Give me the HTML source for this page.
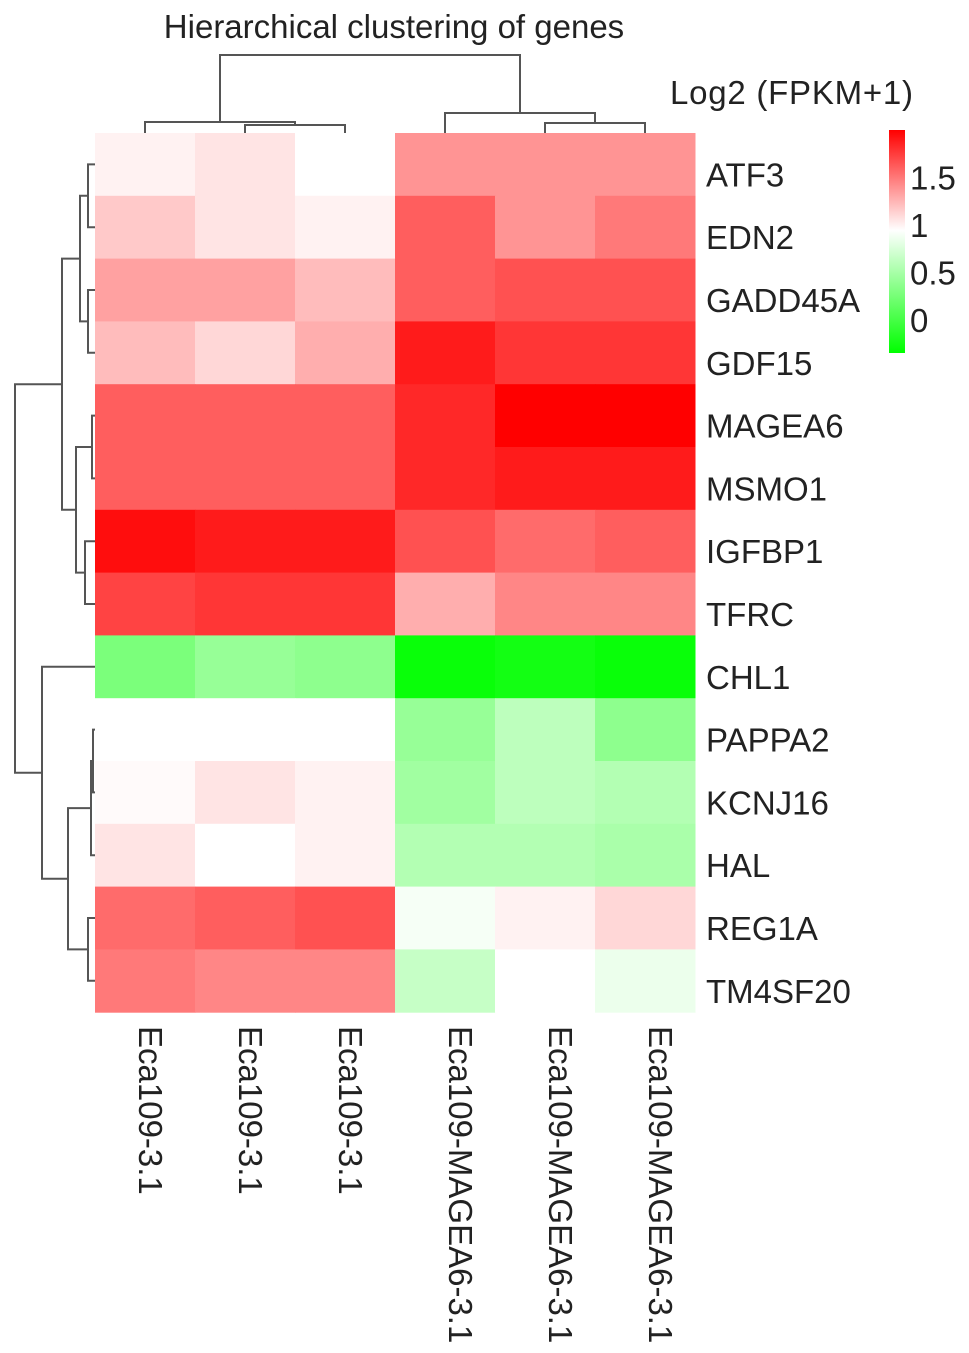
<!DOCTYPE html>
<html><head><meta charset="utf-8"><style>
html,body{margin:0;padding:0;background:#fff;}
svg{display:block;font-family:"Liberation Sans",Arial,sans-serif;}
</style></head><body>
<svg id="chart" width="969" height="1353" viewBox="0 0 969 1353">
<text x="394" y="38" font-size="33" text-anchor="middle" fill="#222">Hierarchical clustering of genes</text>
<text x="670" y="104" font-size="33" fill="#222" textLength="243">Log2 (FPKM+1)</text>
<defs><linearGradient id="lg" x1="0" y1="1" x2="0" y2="0">
<stop offset="0" stop-color="#00ff00"/><stop offset="0.55" stop-color="#ffffff"/><stop offset="1" stop-color="#ff0000"/>
</linearGradient></defs>
<rect x="889" y="130" width="16" height="223" fill="url(#lg)"/>
<g id="cells"></g>
<g id="rowlabels"></g>
<g id="collabels"></g>
<g id="legendticks"></g>
<g id="dendro" fill="none" stroke="#555" stroke-width="2"></g>
</svg>
<script>
const genes=["ATF3","EDN2","GADD45A","GDF15","MAGEA6","MSMO1","IGFBP1","TFRC","CHL1","PAPPA2","KCNJ16","HAL","REG1A","TM4SF20"];
const samples=["Eca109-3.1","Eca109-3.1","Eca109-3.1","Eca109-MAGEA6-3.1","Eca109-MAGEA6-3.1","Eca109-MAGEA6-3.1"];
const values=[
[1.05,1.1,1.0,1.4,1.4,1.4],
[1.2,1.1,1.05,1.6,1.4,1.5],
[1.35,1.35,1.25,1.6,1.65,1.65],
[1.25,1.15,1.3,1.85,1.75,1.75],
[1.6,1.6,1.6,1.8,1.95,1.95],
[1.6,1.6,1.6,1.8,1.85,1.85],
[1.9,1.85,1.85,1.65,1.55,1.6],
[1.7,1.75,1.75,1.3,1.45,1.45],
[0.3,0.45,0.4,-0.3,-0.25,-0.3],
[1.0,1.0,1.0,0.45,0.65,0.4],
[1.02,1.1,1.05,0.5,0.65,0.6],
[1.1,1.0,1.05,0.6,0.6,0.55],
[1.55,1.6,1.65,0.95,1.05,1.15],
[1.5,1.45,1.45,0.7,1.0,0.9]];
const legendTicks=[0,0.5,1,1.5];
const NS="http://www.w3.org/2000/svg";
const X0=95,CW=100,Y0=133,RH=62.8;
function xCol(i){return X0+i*CW;}
function yRow(i){return Y0+i*RH;}
function legendY(v){return 320-v*95;}
function color(v){
 if(v>=1){let t=Math.min(1,(v-1)/0.95);let g=Math.round(255*(1-t));return `rgb(255,${g},${g})`;}
 let t=Math.min(1,(1-v)/1.35);let r=Math.round(255*(1-t));return `rgb(${r},255,${r})`;
}
function mk(tag,attrs,parent){const e=document.createElementNS(NS,tag);for(const k in attrs)e.setAttribute(k,attrs[k]);parent.appendChild(e);return e;}
const cells=document.getElementById('cells');
values.forEach((row,r)=>row.forEach((v,c)=>{
 const e=mk('rect',{x:xCol(c),y:yRow(r),width:CW+0.5,height:RH+0.5,fill:color(v)},cells);
 
 
}));
const rl=document.getElementById('rowlabels');
genes.forEach((g,r)=>{
 const t=mk('text',{x:706,y:yRow(r)+RH/2+22,'font-size':33,fill:'#222'},rl);t.textContent=g;
 
 
});
const cl=document.getElementById('collabels');
samples.forEach((s,c)=>{
 const cx=xCol(c)+CW/2+(c<3?5:15);
 const t=mk('text',{x:0,y:0,'font-size':33,fill:'#222',transform:`translate(${cx-11},1026) rotate(90)`},cl);t.textContent=s;
 
 
});
const lt=document.getElementById('legendticks');
legendTicks.forEach(v=>{
 const t=mk('text',{x:910,y:legendY(v)+12,'font-size':33,fill:'#222'},lt);t.textContent=String(v);
 
 
});
const d=document.getElementById('dendro');
function rc(i){return yRow(i)+RH/2;}
function cc(i){return xCol(i)+CW/2;}
function lj(x,y1,c1x,y2,c2x){mk('path',{d:`M${c1x},${y1}H${x}V${y2}H${c2x}`},d);return (y1+y2)/2;}
function tj(y,x1,c1y,x2,c2y){mk('path',{d:`M${x1},${c1y}V${y}H${x2}V${c2y}`},d);return (x1+x2)/2;}
const L=95;
let a1=lj(88,rc(0),L,rc(1),L), a2=lj(88,rc(2),L,rc(3),L);
let A1=lj(80,a1,88,a2,88);
let b1=lj(92,rc(4),L,rc(5),L), b2=lj(85,rc(6),L,rc(7),L);
let A2=lj(76,b1,92,b2,85);
let A=lj(62,A1,80,A2,76);
let p1=lj(93,rc(9),L,rc(10),L);
let p2=lj(91,p1,93,rc(11),L);
let r1=lj(88,rc(12),L,rc(13),L);
let B2=lj(68,p2,91,r1,88);
let B=lj(42,rc(8),L,B2,68);
lj(15,A,62,B,42);
const T=133;
let t1=tj(125,cc(1),T,cc(2),T);
let t2=tj(122,cc(0),T,t1,125);
let t3=tj(123,cc(4),T,cc(5),T);
let t4=tj(113,cc(3),T,t3,123);
tj(55,t2,122,t4,113);
</script>
</body></html>
